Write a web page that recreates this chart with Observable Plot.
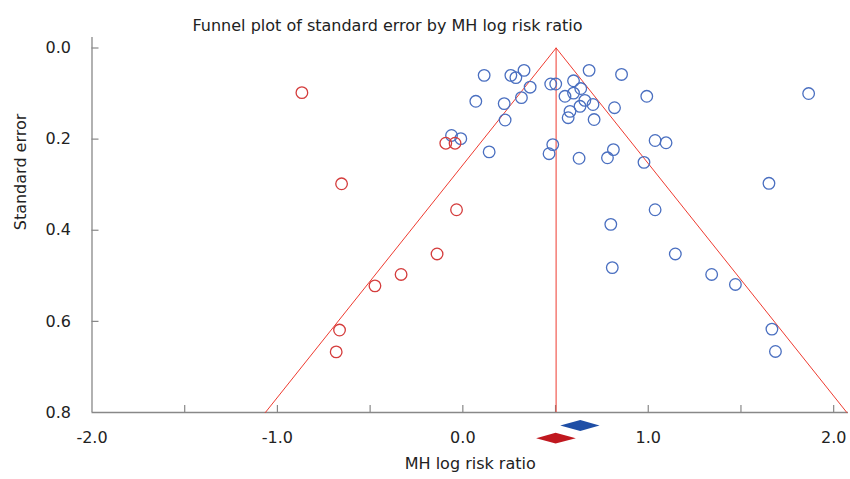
<!DOCTYPE html>
<html>
<head>
<meta charset="utf-8">
<script src="https://cdn.jsdelivr.net/npm/d3@7"></script>
<script src="https://cdn.jsdelivr.net/npm/@observablehq/plot@0.6"></script>
<style>
  html, body { margin: 0; padding: 0; background: #fff; }
  #chart svg { display: block; }
</style>
</head>
<body>
<div id="chart"></div>
<script>
// ---- Data ----
const studyLogRR = [0.115, 0.259, 0.286, 0.330, 0.363, 0.070, 0.223, 0.316, 0.228, 0.474,
  0.501, 0.681, 0.856, 0.597, 0.636, 0.551, 0.597, 0.658, 0.632, 0.702,
  0.578, 0.568, 0.708, 0.818, 0.992, -0.061, -0.011, 0.142, 0.485, 0.465,
  0.627, 0.780, 0.812, 0.977, 1.037, 1.096, 1.865, 1.651, 1.037, 0.798,
  1.146, 0.806, 1.342, 1.470, 1.667, 1.686];
const studySE = [0.060, 0.060, 0.065, 0.049, 0.086, 0.117, 0.122, 0.109, 0.158, 0.079,
  0.079, 0.049, 0.058, 0.072, 0.089, 0.106, 0.099, 0.115, 0.128, 0.124,
  0.139, 0.153, 0.157, 0.131, 0.106, 0.192, 0.199, 0.228, 0.212, 0.232,
  0.242, 0.241, 0.223, 0.251, 0.203, 0.208, 0.100, 0.297, 0.355, 0.387,
  0.452, 0.482, 0.497, 0.519, 0.617, 0.666];

const imputedLogRR = [-0.868, -0.092, -0.042, -0.654, -0.034, -0.139, -0.333, -0.474, -0.665, -0.683];
const imputedSE = [0.098, 0.209, 0.209, 0.298, 0.355, 0.452, 0.497, 0.522, 0.619, 0.667];

const summaryNames = ["Observed", "Adjusted"];
const summaryEst = [0.636, 0.503];
const summaryLo = [0.528, 0.398];
const summaryHi = [0.740, 0.612];

const xLabelTicks = [-2, -1, 0, 1, 2];
const xMinorTicks = [-1.5, -1, -0.5, 0, 0.5, 1, 1.5, 2];
const yTicks = [0, 0.2, 0.4, 0.6, 0.8];

const titleText = "Funnel plot of standard error by MH log risk ratio";
const xLabel = "MH log risk ratio";
const yLabel = "Standard error";

// ---- Layout ----
const W = 850, H = 479;
const mL = 91.5, mR = 2, mT = 47.5, mB = 67;
const seMax = 0.8;
const pxPerSE = (H - mB - mT) / seMax;
const funnelZ = 1.96;

const studies = studyLogRR.map((x, i) => ({x, se: studySE[i]}));
const imputed = imputedLogRR.map((x, i) => ({x, se: imputedSE[i]}));

const center = summaryEst[1];
const funnel = [
  {x: center - funnelZ * seMax, se: seMax},
  {x: center, se: 0},
  {x: center + funnelZ * seMax, se: seMax}
];

// diamonds below the x axis (pixel offsets converted to SE units)
const diamondOffsetPx = [13.5, 26.2];
const diamondHalfPx = 5.4;
function diamond(i) {
  const c = seMax + diamondOffsetPx[i] / pxPerSE;
  const h = diamondHalfPx / pxPerSE;
  return [
    {x: summaryLo[i], y1: c, y2: c},
    {x: summaryEst[i], y1: c - h, y2: c + h},
    {x: summaryHi[i], y1: c, y2: c}
  ];
}

const axisColor = "#888888";
const lineRed = "#ee3b30";
const font = "DejaVu Sans";
const fs = 16;
const fmt = d => d.toFixed(1);

const chart = Plot.plot({
  width: W,
  height: H,
  marginLeft: mL,
  marginRight: mR,
  marginTop: mT,
  marginBottom: mB,
  style: {fontFamily: font, fontSize: fs + "px", color: "#222", background: "#fff"},
  x: {domain: [-2, 2.08]},
  y: {domain: [0, seMax], reverse: true},
  marks: [
    // axes lines
    Plot.ruleX([-2], {stroke: axisColor, strokeWidth: 1.3, insetTop: -10.5}),
    Plot.ruleY([seMax], {stroke: axisColor, strokeWidth: 1.3}),
    // inward tick marks
    Plot.tickY(yTicks.slice(0, -1), {y: d => d, stroke: axisColor, strokeWidth: 1.2, insetRight: W - mL - mR - 7}),
    Plot.tickX(xMinorTicks, {x: d => d, stroke: axisColor, strokeWidth: 1.2, insetTop: H - mT - mB - 7}),
    // tick labels
    Plot.axisY({ticks: yTicks, tickSize: 0, tickPadding: 21, tickFormat: fmt, label: null, fontSize: fs, fill: "#222"}),
    Plot.axisX({ticks: xLabelTicks, tickSize: 0, tickPadding: 19, tickFormat: fmt, label: null, fontSize: fs, fill: "#222"}),
    // funnel
    Plot.line(funnel, {x: "x", y: "se", stroke: lineRed, strokeWidth: 1}),
    Plot.ruleX([center], {y1: 0, y2: seMax, stroke: lineRed, strokeWidth: 1}),
    // points
    Plot.dot(studies, {x: "x", y: "se", r: 5.8, stroke: "#4a6fc0", strokeWidth: 1.3, fill: "none"}),
    Plot.dot(imputed, {x: "x", y: "se", r: 5.8, stroke: "#d43c3c", strokeWidth: 1.3, fill: "none"}),
    // summary diamonds
    Plot.areaY(diamond(0), {x: "x", y1: "y1", y2: "y2", fill: "#1e4ea6"}),
    Plot.areaY(diamond(1), {x: "x", y1: "y1", y2: "y2", fill: "#c0181f"}),
    // texts
    Plot.text([titleText], {text: d => d, frameAnchor: "top-left", textAnchor: "start", dx: 100.5, dy: -28.5, fontSize: fs, fill: "#222"}),
    Plot.text([xLabel], {text: d => d, frameAnchor: "bottom", dy: 56, fontSize: fs, fill: "#222"}),
    Plot.text([yLabel], {text: d => d, frameAnchor: "left", dx: -71.5, rotate: -90, fontSize: fs, fill: "#222"})
  ]
});

document.getElementById("chart").appendChild(chart);
</script>
</body>
</html>
